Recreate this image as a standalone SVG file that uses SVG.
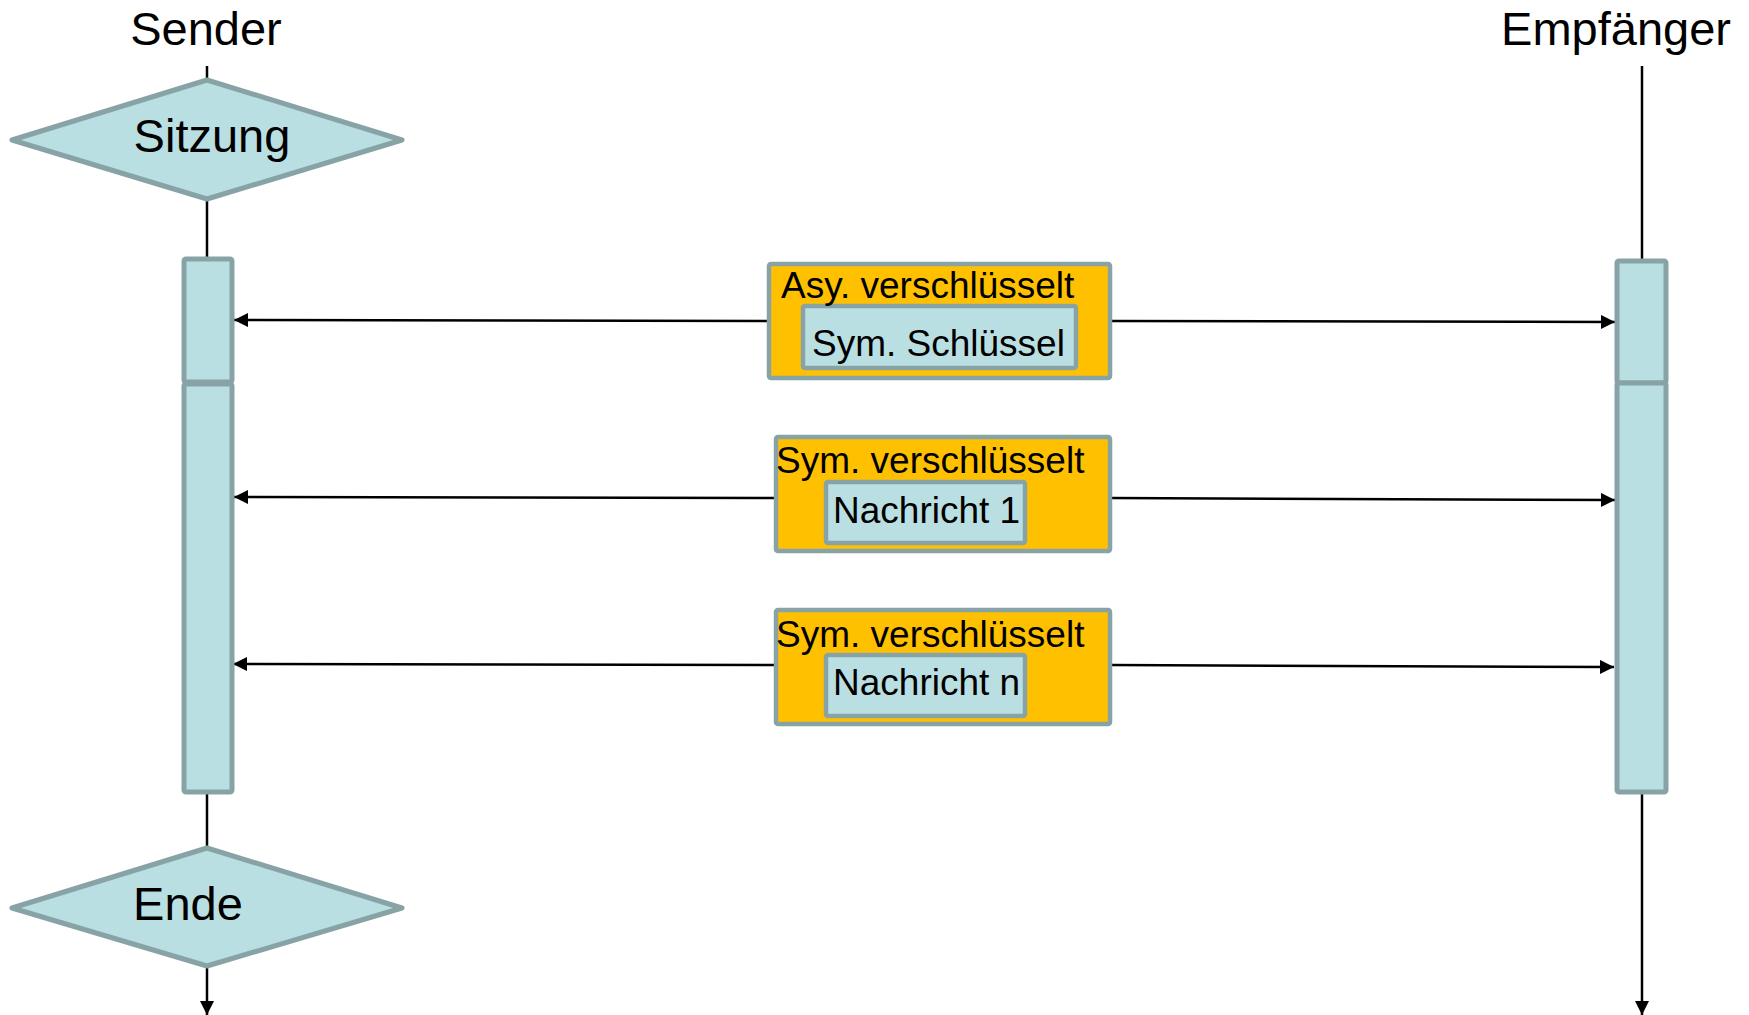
<svg xmlns="http://www.w3.org/2000/svg" width="1749" height="1015" viewBox="0 0 1749 1015">
  <defs>
    <style>
      text { font-family: "Liberation Sans", Arial, sans-serif; fill: #000; }
      .head { font-size: 47px; text-anchor: middle; }
      .dia { fill: #B9DFE3; stroke: #87A3A6; stroke-width: 5; stroke-linejoin: round; }
      .bar { fill: #B9DFE3; stroke: #87A3A6; stroke-width: 5; }
      .outer { fill: #FFC000; stroke: #87A3A6; stroke-width: 4.5; }
      .inner { fill: #B9DFE3; stroke: #87A3A6; stroke-width: 4.5; }
      .lbl { font-size: 37px; }
      .life { stroke: #000; stroke-width: 2.5; fill: none; }
      .msg { stroke: #000; stroke-width: 2.5; fill: none; marker-end: url(#arrow); }
    </style>
    <marker id="arrow" viewBox="0 0 10 10" refX="10" refY="5" markerWidth="15" markerHeight="14" markerUnits="userSpaceOnUse" orient="auto">
      <path d="M0,0 L10,5 L0,10 Z" fill="#000"/>
    </marker>
  </defs>

  <!-- column headings -->
  <g id="sender-label"><text class="head" x="206" y="45">Sender</text></g>
  <g id="receiver-label"><text class="head" x="1616" y="45">Empfänger</text></g>

  <!-- lifelines and messages -->
  <g id="connectors">
    <line class="life" x1="207" y1="66" x2="207" y2="80"/>
    <line class="life" x1="207" y1="199" x2="207" y2="258"/>
    <line class="life" x1="207" y1="793" x2="207" y2="848"/>
    <line class="msg" x1="207" y1="965" x2="207" y2="1015"/>
    <line class="life" x1="1642" y1="66" x2="1642" y2="259"/>
    <line class="msg" x1="1642" y1="793" x2="1642" y2="1015"/>

    <!-- messages to sender -->
    <line class="msg" x1="768" y1="321" x2="234" y2="320"/>
    <line class="msg" x1="775" y1="498" x2="234" y2="497"/>
    <line class="msg" x1="775" y1="665" x2="233" y2="664"/>
    <!-- messages to receiver -->
    <line class="msg" x1="1111" y1="321" x2="1615" y2="322"/>
    <line class="msg" x1="1111" y1="498" x2="1615" y2="500"/>
    <line class="msg" x1="1111" y1="665" x2="1614" y2="667"/>
  </g>

  <!-- session start / end -->
  <g id="sitzung">
    <polygon class="dia" points="207,80 402,140 207,199 12,140"/>
    <text x="212" y="152" style="font-size:47px" text-anchor="middle">Sitzung</text>
  </g>
  <g id="ende">
    <polygon class="dia" points="207,848 402,908 207,966 12,908"/>
    <text x="188" y="920" style="font-size:47px" text-anchor="middle">Ende</text>
  </g>

  <!-- activation bars -->
  <g id="sender-bar">
    <rect class="bar" x="184" y="259" width="48" height="123" rx="2"/>
    <rect class="bar" x="184" y="384" width="48" height="408" rx="2"/>
  </g>
  <g id="receiver-bar">
    <rect class="bar" x="1617" y="261" width="49" height="122" rx="2"/>
    <rect class="bar" x="1617" y="383" width="49" height="409" rx="2"/>
  </g>

  <!-- message payloads -->
  <g id="msg-key">
    <rect class="outer" x="769" y="264" width="341" height="114" rx="2"/>
    <rect class="inner" x="803" y="306" width="273" height="62" rx="2"/>
    <text class="lbl" x="781" y="298">Asy. verschlüsselt</text>
    <text class="lbl" x="812" y="356">Sym. Schlüssel</text>
  </g>
  <g id="msg-1">
    <rect class="outer" x="776" y="437" width="334" height="114" rx="2"/>
    <rect class="inner" x="826" y="482" width="199" height="61" rx="2"/>
    <text class="lbl" x="776" y="473">Sym. verschlüsselt</text>
    <text class="lbl" x="833" y="523">Nachricht 1</text>
  </g>
  <g id="msg-n">
    <rect class="outer" x="776" y="610" width="334" height="114" rx="2"/>
    <rect class="inner" x="826" y="655" width="199" height="61" rx="2"/>
    <text class="lbl" x="776" y="647">Sym. verschlüsselt</text>
    <text class="lbl" x="833" y="695">Nachricht n</text>
  </g>
</svg>
